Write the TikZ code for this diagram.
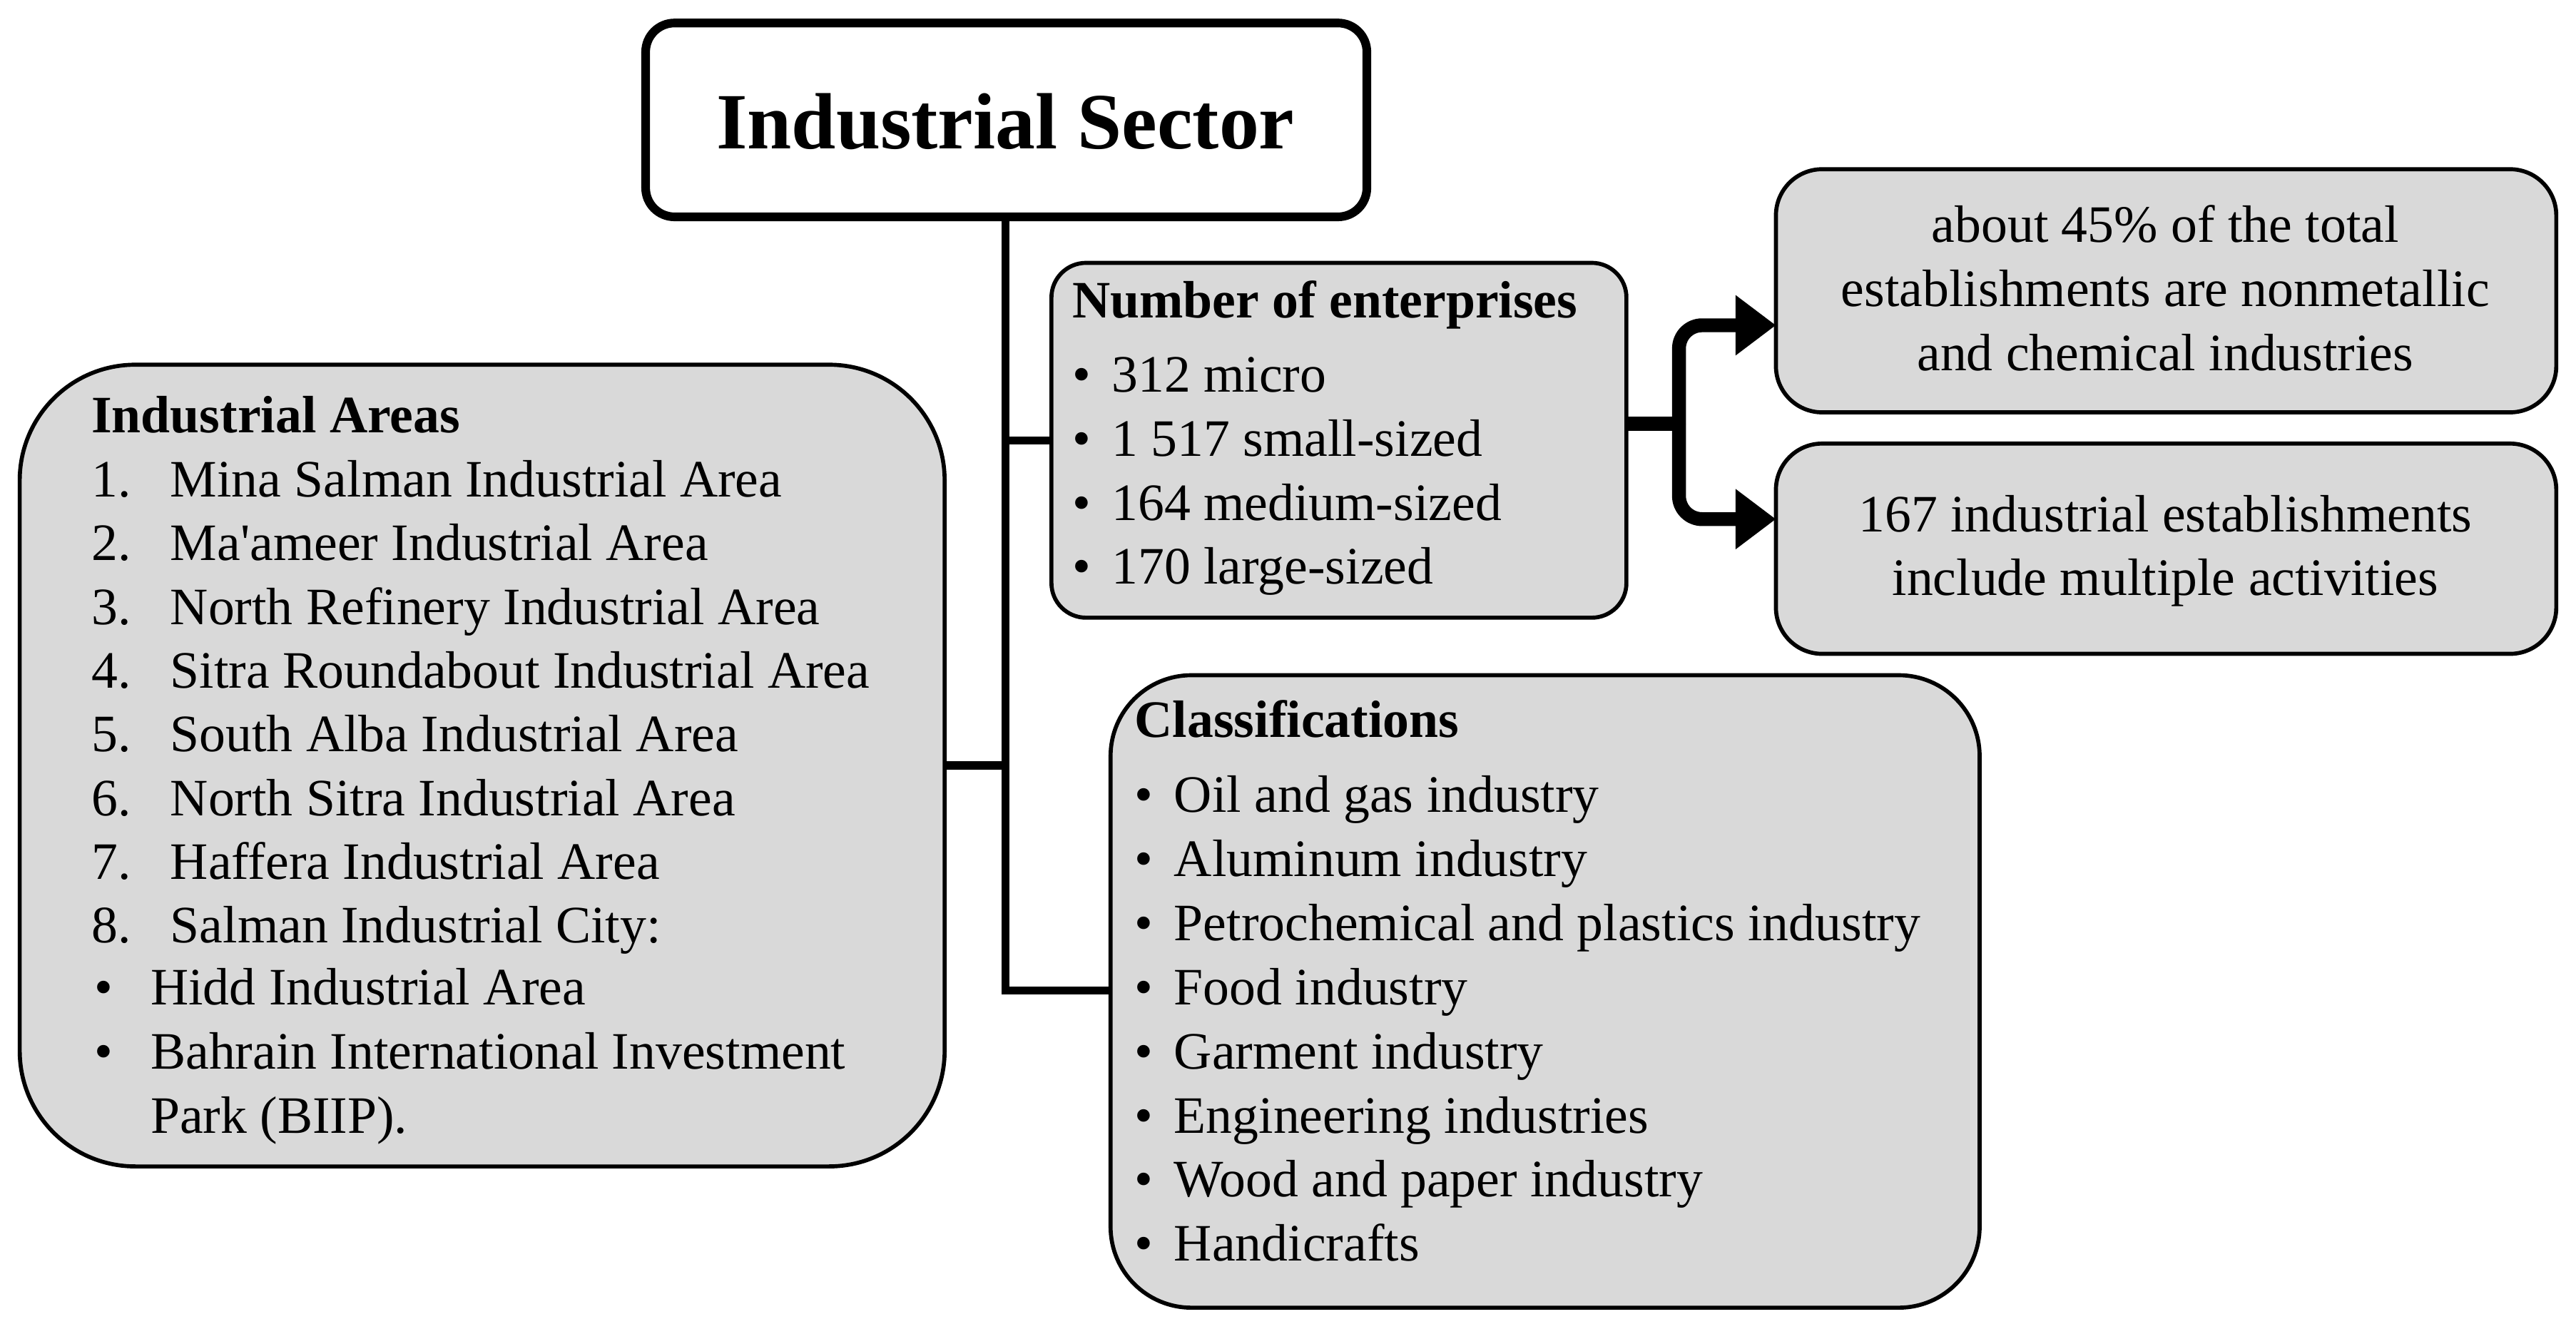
\documentclass[tikz,border=0pt]{standalone}
\usepackage{fontspec}
\setmainfont{Liberation Serif}
\usetikzlibrary{arrows.meta}
\begin{document}
\begin{tikzpicture}[x=0.01cm,y=-0.01cm,
  gbox/.style={draw=black,line width=0.7pt,fill=gray!30},
  txt/.style={anchor=west,inner sep=0pt,text height=6.3pt,text depth=2pt,font=\fontsize{9.1pt}{11pt}\selectfont},
  hd/.style={txt,font=\fontsize{9.1pt}{11pt}\selectfont\bfseries},
  ctr/.style={anchor=center,inner sep=0pt,text height=6.3pt,text depth=2pt,font=\fontsize{9.1pt}{11pt}\selectfont},
  trunk/.style={line width=1.4pt},
  fork/.style={line width=2.4pt,rounded corners=4pt,-{Triangle[length=7pt,width=10pt]}}]
\useasboundingbox (0,0) rectangle (1568,812);
% boxes
\draw[line width=1.5pt,fill=white,rounded corners=5pt] (393,14) rectangle (832,132);
\node[inner sep=0pt,font=\fontsize{13.8pt}{16pt}\selectfont\bfseries] (title) at (612,74) {Industrial Sector};
\coordinate (tb) at (612,132);
\draw[gbox,rounded corners=20pt] (12,222) rectangle (575,710);
\coordinate (ia) at (575,466);
\draw[gbox,rounded corners=6pt] (640,160) rectangle (990,376);
\coordinate (ne) at (640,268);
\coordinate (ner) at (990,258);
\draw[gbox,rounded corners=14pt] (676,411) rectangle (1205,796);
\coordinate (cl) at (676,603);
\draw[gbox,rounded corners=8pt] (1081,103) rectangle (1556,251);
\coordinate (r1) at (1081,198);
\draw[gbox,rounded corners=8pt] (1081,270) rectangle (1556,398);
\coordinate (r2) at (1081,316);
% connectors
\coordinate (tend) at (612,603);
\draw[trunk] (tb) -- (tend) -- (cl);
\draw[trunk] (ia) -- (ia -| tb);
\draw[trunk] (ne) -- (ne -| tb);
\coordinate (fk) at (1022,258);
\draw[line width=2.4pt] (ner) -- (fk);
\draw[fork] (fk) -- (fk |- r1) -- (r1);
\draw[fork] (fk) -- (fk |- r2) -- (r2);
% Industrial areas
\node[hd] (iah) at (55,256) {Industrial Areas};
\foreach \n/\t [count=\i] in {1/Mina Salman Industrial Area,2/Ma\textquotesingle ameer Industrial Area,3/North Refinery Industrial Area,4/Sitra Roundabout Industrial Area,5/South Alba Industrial Area,6/North Sitra Industrial Area,7/Haffera Industrial Area,8/Salman Industrial City:}{
  \node[txt] (ian\i) at (55,256+38.8*\i) {\n.};
  \node[txt] (iat\i) at (103,256+38.8*\i) {\t};}
\node[txt] (iab1) at (57,604) {•};
\node[txt] (iab1t) at (91,604) {Hidd Industrial Area};
\node[txt] (iab2) at (57,643) {•};
\node[txt] (iab2t) at (91,643) {Bahrain International Investment};
\node[txt] (iab3t) at (91,682) {Park (BIIP).};
% enterprises
\node[hd] (neh) at (652,186) {Number of enterprises};
\foreach \t [count=\i] in {312 micro,1 517 small-sized,164 medium-sized,170 large-sized}{
  \node[txt] (neb\i) at (652,192+39*\i) {•};
  \node[txt] (net\i) at (676,192+39*\i) {\t};}
% classifications
\node[hd] (clh) at (690,441) {Classifications};
\foreach \t [count=\i] in {Oil and gas industry,Aluminum industry,Petrochemical and plastics industry,Food industry,Garment industry,Engineering industries,Wood and paper industry,Handicrafts}{
  \node[txt] (clb\i) at (690,448+39*\i) {•};
  \node[txt] (clt\i) at (714,448+39*\i) {\t};}
% right boxes
\node[ctr] (a1) at (1318,140) {about 45\% of the total};
\node[ctr] (a2) at (1318,179) {establishments are nonmetallic};
\node[ctr] (a3) at (1318,218) {and chemical industries};
\node[ctr] (b1) at (1318,316) {167 industrial establishments};
\node[ctr] (b2) at (1318,355) {include multiple activities};
\end{tikzpicture}
\end{document}
